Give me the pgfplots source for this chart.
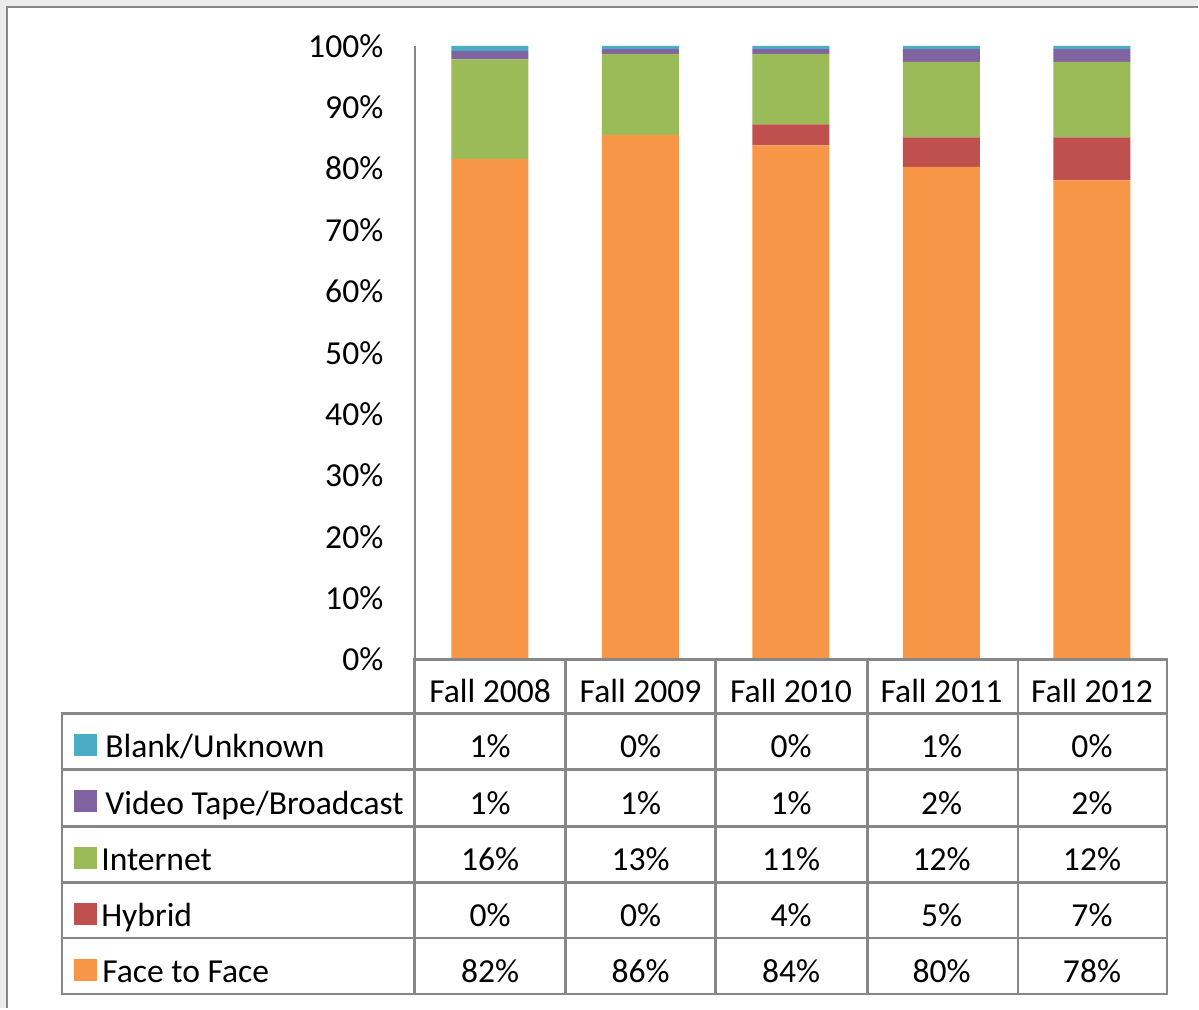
\documentclass[border=0pt]{standalone}
\usepackage{fontspec}
\setmainfont{Carlito}
\usepackage{pgfplots}
\pgfplotsset{compat=1.18}
\definecolor{cFtF}{HTML}{F79646}
\definecolor{cHyb}{HTML}{C0504D}
\definecolor{cInt}{HTML}{9BBB59}
\definecolor{cVid}{HTML}{8064A2}
\definecolor{cBla}{HTML}{4BACC6}
\definecolor{gridc}{HTML}{878787}
\begin{document}
\begin{tikzpicture}[font=\fontsize{16.8}{20.2}\selectfont]
\begin{scope}[x=0.5pt,y=-0.5pt,shift={(-207.5pt,330pt)}]
 \fill[gray!16] (0,0) rectangle (1199,1009);
 \fill[white] (7,7) rectangle (1199,1009);
 \draw[gridc, line width=1pt] (7,1009) -- (7,7) -- (1199,7);
 \path[use as bounding box] (0,0) rectangle (1199,1009);
\end{scope}
\begin{axis}[
 at={(0pt,0pt)}, anchor=south west,
 scale only axis, width=376.5pt, height=307pt,
 xmin=-0.5, xmax=4.5, ymin=0, ymax=100,
 ybar stacked, bar width=38.5pt,
 xtick=\empty,
 ytick={0,10,...,100},
 yticklabel={\pgfmathprintnumber{\tick}\%},
 /pgf/number format/assume math mode=true,
 axis x line=none, axis y line=left,
 y axis line style={-, draw=gridc, line width=1pt},
 major tick length=0pt,
 yticklabel style={anchor=east, inner sep=0pt, xshift=-15.5pt},
 clip=false,
]
\addplot[fill=cFtF, draw=none] coordinates {(0,81.6) (1,85.5) (2,83.8) (3,80.3) (4,78.1)};
\addplot[fill=cHyb, draw=none] coordinates {(0,0) (1,0) (2,3.4) (3,4.8) (4,7.0)};
\addplot[fill=cInt, draw=none] coordinates {(0,16.2) (1,13.2) (2,11.5) (3,12.3) (4,12.3)};
\addplot[fill=cVid, draw=none] coordinates {(0,1.4) (1,0.8) (2,0.8) (3,2.1) (4,2.1)};
\addplot[fill=cBla, draw=none] coordinates {(0,0.8) (1,0.5) (2,0.5) (3,0.5) (4,0.5)};
\end{axis}
\begin{scope}[x=0.5pt,y=-0.5pt,shift={(-207.5pt,330pt)}]
 \begin{scope}[gridc, line width=1.25pt, line cap=rect]
 \draw (415,660) -- (1168,660);
 \foreach \y in {714,770,827,883,939,995} \draw (62,\y) -- (1168,\y);
 \draw (62,714) -- (62,995);
 \foreach \x in {415,566,716,868,1019,1168} \draw (\x,660) -- (\x,995);
 \end{scope}
 \foreach \lab [count=\i from 0] in {Fall 2008,Fall 2009,Fall 2010,Fall 2011,Fall 2012}
   \node[anchor=base, inner sep=0pt] at ({490.5+150.6*\i},703) {\lab};
 \foreach \yy/\vals in {758/{1,0,0,1,0},815/{1,1,1,2,2},871/{16,13,11,12,12},927/{0,0,4,5,7},983/{82,86,84,80,78}}{
   \foreach \v [count=\i from 0] in \vals
     \node[anchor=base, inner sep=0pt] at ({490.5+150.6*\i},\yy) {\v\%};
 }
 \fill[cBla] (74,735) rectangle (97,757);
 \node[anchor=base west, inner sep=0pt] at (105,758) {Blank/Unknown};
 \fill[cVid] (74,791) rectangle (97,813);
 \node[anchor=base west, inner sep=0pt] at (105,815) {Video Tape/Broadcast};
 \fill[cInt] (74,848) rectangle (97,870);
 \node[anchor=base west, inner sep=0pt] at (101,871) {Internet};
 \fill[cHyb] (74,904) rectangle (97,926);
 \node[anchor=base west, inner sep=0pt] at (101,927) {Hybrid};
 \fill[cFtF] (74,960) rectangle (97,982);
 \node[anchor=base west, inner sep=0pt] at (102,983) {Face to Face};
\end{scope}
\end{tikzpicture}
\end{document}
